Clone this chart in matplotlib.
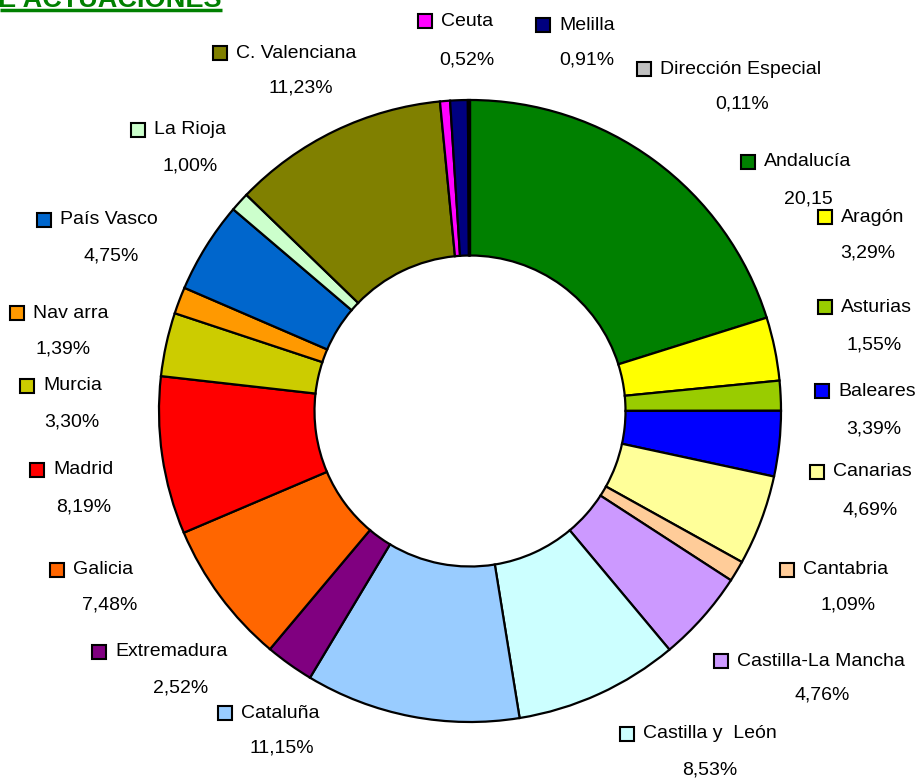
import matplotlib
matplotlib.use('Agg')
import matplotlib.pyplot as plt
from matplotlib.patches import Rectangle

# Data
regiones = ['Andalucía', 'Aragón', 'Asturias', 'Baleares', 'Canarias', 'Cantabria',
            'Castilla-La Mancha', 'Castilla y  León', 'Cataluña', 'Extremadura', 'Galicia',
            'Madrid', 'Murcia', 'Nav arra', 'País Vasco', 'La Rioja', 'C. Valenciana',
            'Ceuta', 'Melilla', 'Dirección Especial']
valores = [20.15, 3.29, 1.55, 3.39, 4.69, 1.09, 4.76, 8.53, 11.15, 2.52, 7.48,
           8.19, 3.30, 1.39, 4.75, 1.00, 11.23, 0.52, 0.91, 0.11]
etiquetas = ['20,15', '3,29%', '1,55%', '3,39%', '4,69%', '1,09%', '4,76%', '8,53%',
             '11,15%', '2,52%', '7,48%', '8,19%', '3,30%', '1,39%', '4,75%', '1,00%',
             '11,23%', '0,52%', '0,91%', '0,11%']
colores = ['#008000', '#FFFF00', '#99CC00', '#0000FF', '#FFFF99', '#FFCC99', '#CC99FF',
           '#CCFFFF', '#99CCFF', '#800080', '#FF6600', '#FF0000', '#CCCC00', '#FF9900',
           '#0066CC', '#CCFFCC', '#808000', '#FF00FF', '#000080', '#C0C0C0']

# layout of the label blocks (pixel coords: square left x, name y, pct centre x, pct y)
W, H = 915, 780
label_pos = [(741, 162, 808, 199), (818, 217, 868, 253), (818, 307, 874, 345),
             (815, 391, 874, 429), (810, 472, 870, 510), (780, 570, 848, 605),
             (714, 661, 822, 695), (620, 734, 710, 770), (218, 713, 282, 748),
             (92, 652, 181, 688), (50, 570, 110, 605), (30, 470, 84, 507),
             (20, 386, 72, 422), (10, 313, 63, 349), (37, 220, 111, 256),
             (131, 130, 190, 166), (213, 53, 301, 88), (418, 21, 467, 60),
             (536, 25, 587, 60), (637, 69, 742, 104)]

plt.rcParams['font.family'] = ['Liberation Sans Narrow', 'Liberation Sans', 'DejaVu Sans']

fig = plt.figure(figsize=(W / 100, H / 100), dpi=100)
ax = fig.add_axes([0, 0, 1, 1])

cx, cy, r = 470, H - 411, 311
ax.pie(valores, colors=colores, startangle=90, counterclock=False,
       center=(cx, cy), radius=r,
       wedgeprops=dict(width=r * 0.5, edgecolor='black', linewidth=1.6))

for name, lab, col, (sx, ny, px, py) in zip(regiones, etiquetas, colores, label_pos):
    ax.add_patch(Rectangle((sx, H - ny - 7), 14, 14, facecolor=col,
                           edgecolor='black', linewidth=1.5, zorder=5))
    ax.text(sx + 23, H - ny, name, fontsize=14, va='center', ha='left')
    ax.text(px, H - py, lab, fontsize=14, va='center', ha='center')

# cut-off title at top left
ax.text(221, H - 7, 'E ACTUACIONES', fontsize=19.5, fontweight='bold',
        color='#008000', ha='right', va='baseline',
        family=['Liberation Sans', 'DejaVu Sans'])
ax.plot([0, 222], [H - 9.5, H - 9.5], color='#008000', linewidth=2.5,
        solid_capstyle='butt')

ax.set_xlim(0, W)
ax.set_ylim(0, H)
ax.set_aspect('auto')
ax.axis('off')

fig.savefig('out.png', dpi=100)
